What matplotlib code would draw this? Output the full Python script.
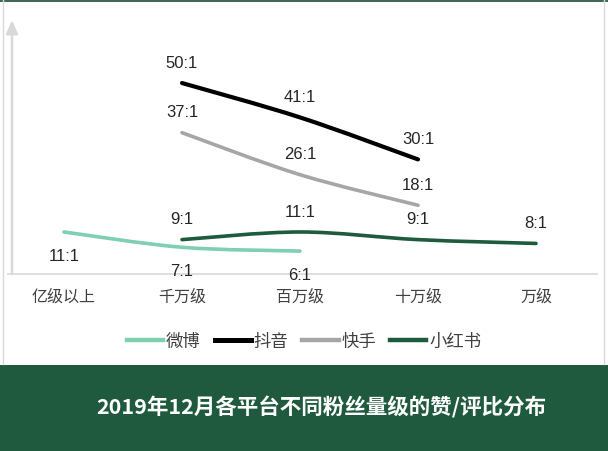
import numpy as np
import matplotlib
matplotlib.use("Agg")
import matplotlib.pyplot as plt
from matplotlib.path import Path
from matplotlib.patches import PathPatch, Rectangle
from matplotlib.lines import Line2D

plt.rcParams['font.family'] = ['Liberation Sans', 'Noto Sans CJK SC', 'DejaVu Sans']

# 粉丝量级 categories and the like/comment ratio of each platform
categories = ["亿级以上", "千万级", "百万级", "十万级", "万级"]
weibo_idx = [0, 1, 2]
weibo_vals = [11, 7, 6]
douyin_idx = [1, 2, 3]
douyin_vals = [50, 41, 30]
kuaishou_idx = [1, 2, 3]
kuaishou_vals = [37, 26, 18]
xhs_idx = [1, 2, 3, 4]
xhs_vals = [9, 11, 9, 8]

title = "2019年12月各平台不同粉丝量级的赞/评比分布"


def smooth_path(xs, ys):
    """Catmull-Rom style smoothed path through the points (like Excel smoothed lines)"""
    xs = np.asarray(xs, float)
    ys = np.asarray(ys, float)
    n = len(xs)
    verts = [(xs[0], ys[0])]
    codes = [Path.MOVETO]
    for i in range(n - 1):
        p0 = np.array([xs[max(i - 1, 0)], ys[max(i - 1, 0)]])
        p1 = np.array([xs[i], ys[i]])
        p2 = np.array([xs[i + 1], ys[i + 1]])
        p3 = np.array([xs[min(i + 2, n - 1)], ys[min(i + 2, n - 1)]])
        c1 = p1 + (p2 - p0) / 6.0
        c2 = p2 - (p3 - p1) / 6.0
        verts += [tuple(c1), tuple(c2), tuple(p2)]
        codes += [Path.CURVE4] * 3
    return Path(verts, codes)


fig = plt.figure(figsize=(6.08, 4.52), dpi=100)
fig.patch.set_facecolor("white")

W, H = 608.0, 452.0
ax = fig.add_axes([8 / W, 1 - 275 / H, (597 - 8) / W, (275 - 21) / H])
ax.set_xlim(-56 / 118, 4 + 61 / 118)
ax.set_ylim(0, 66.5)
for s in ["top", "right", "left"]:
    ax.spines[s].set_visible(False)
ax.spines["bottom"].set_color("#d9d9d9")
ax.spines["bottom"].set_linewidth(1.2)
ax.set_yticks([])
ax.set_xticks(range(len(categories)))
ax.set_xticklabels(categories, fontsize=11.5, color="#404040")
ax.tick_params(axis="x", length=0, pad=10)
ax.patch.set_alpha(0)

# y axis arrow
ax.annotate("", xy=(-52 / 118, 66.5), xytext=(-52 / 118, 0),
            arrowprops=dict(arrowstyle="-|>,head_width=0.35,head_length=0.8",
                            color="#d9d9d9", lw=1.8, shrinkA=0, shrinkB=0),
            annotation_clip=False)

series = [
    ("微博", weibo_idx, weibo_vals, "#7fcfb1", 2.6, -17),
    ("抖音", douyin_idx, douyin_vals, "#000000", 3.0, 15),
    ("快手", kuaishou_idx, kuaishou_vals, "#a6a6a6", 2.6, 15),
    ("小红书", xhs_idx, xhs_vals, "#1e5a3c", 2.6, 15),
]

handles = []
for name, idx, vals, color, lw, off in series:
    patch = PathPatch(smooth_path(idx, vals), facecolor="none", edgecolor=color,
                      lw=lw, capstyle="round", zorder=3)
    ax.add_patch(patch)
    for x, v in zip(idx, vals):
        ax.annotate("%d:1" % v, (x, v), xytext=(0, off), textcoords="offset points",
                    ha="center", va="center", fontsize=12, color="#262626")
    handles.append(Line2D([], [], color=color, lw=lw + 0.6, label=name))

fig.legend(handles=handles, loc="center", bbox_to_anchor=(304 / W, 1 - 342 / H),
           ncol=4, frameon=False, fontsize=12.5, handlelength=2.1, handletextpad=0.15,
           columnspacing=0.8, labelcolor="#404040")

# frame lines and top strip
fig.add_artist(Line2D([3 / W, 3 / W], [1 - 365 / H, 1], transform=fig.transFigure,
                      color="#d9d9d9", lw=1))
fig.add_artist(Line2D([604 / W, 604 / W], [1 - 365 / H, 1], transform=fig.transFigure,
                      color="#d9d9d9", lw=1))
fig.add_artist(Rectangle((0, 1 - 3 / H), 1, 3 / H, transform=fig.transFigure,
                         facecolor="#3f6b55", edgecolor="none"))

# bottom banner with title
fig.add_artist(Rectangle((0, 0), 1, 1 - 366 / H, transform=fig.transFigure,
                         facecolor="#1f5a3e", edgecolor="none"))
fig.text(321 / W, 1 - 407 / H, title, ha="center", va="center", color="white",
         fontsize=15.5, fontweight="bold", family=["Noto Sans CJK SC", "DejaVu Sans"])

fig.savefig("out.png", dpi=100, facecolor=fig.get_facecolor())
